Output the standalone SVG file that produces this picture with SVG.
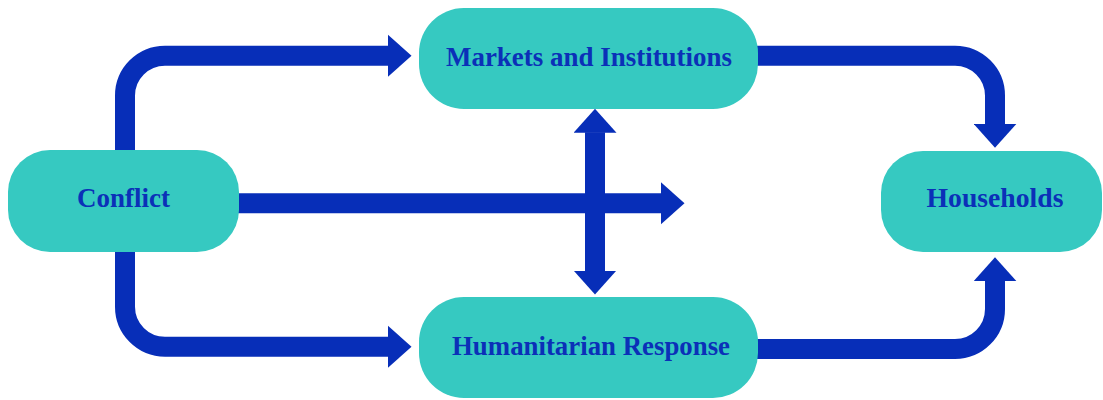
<svg xmlns="http://www.w3.org/2000/svg" width="1103" height="400" viewBox="0 0 1103 400">
  <style>
    .node { fill: #36c9c1; }
    .label { font-family: "Liberation Serif", "DejaVu Serif", serif; font-weight: bold; font-size: 27px; fill: #0b30b8; text-anchor: middle; }
    .conn { fill: none; stroke: #072eb8; stroke-width: 20; }
  </style>
  <defs>
    <marker id="head" markerUnits="userSpaceOnUse" markerWidth="24" markerHeight="43" refX="0.5" refY="21.5" orient="auto-start-reverse" viewBox="0 0 24 43">
      <path d="M0,0 L24,21.5 L0,43 Z" fill="#072eb8"/>
    </marker>
  </defs>
  <rect width="1103" height="400" fill="#ffffff"/>
  <g id="connectors">
    <path class="conn" d="M125,155 V95.7 A40,40 0 0 1 165,55.7 H388" marker-end="url(#head)"/>
    <path class="conn" d="M125,247 V306.7 A40,40 0 0 0 165,346.7 H388" marker-end="url(#head)"/>
    <path class="conn" d="M235,203.3 H661" marker-end="url(#head)"/>
    <path class="conn" d="M595,271 V132.3" marker-start="url(#head)" marker-end="url(#head)"/>
    <path class="conn" d="M754,55.7 H955 A40,40 0 0 1 995,95.7 V124.3" marker-end="url(#head)"/>
    <path class="conn" d="M754,349 H955 A40,40 0 0 0 995,309 V280.7" marker-end="url(#head)"/>
  </g>
  <g id="node-conflict">
    <rect class="node" x="8" y="150" width="231" height="102" rx="42"/>
    <text class="label" x="123.5" y="207">Conflict</text>
  </g>
  <g id="node-markets">
    <rect class="node" x="419" y="8" width="339" height="101" rx="45"/>
    <text class="label" x="589" y="66" textLength="286" lengthAdjust="spacingAndGlyphs">Markets and Institutions</text>
  </g>
  <g id="node-humanitarian">
    <rect class="node" x="419" y="297" width="339" height="101" rx="45"/>
    <text class="label" x="591" y="355" textLength="278" lengthAdjust="spacingAndGlyphs">Humanitarian Response</text>
  </g>
  <g id="node-households">
    <rect class="node" x="881" y="151" width="221" height="101" rx="42"/>
    <text class="label" x="995" y="207" textLength="137" lengthAdjust="spacingAndGlyphs">Households</text>
  </g>
</svg>
